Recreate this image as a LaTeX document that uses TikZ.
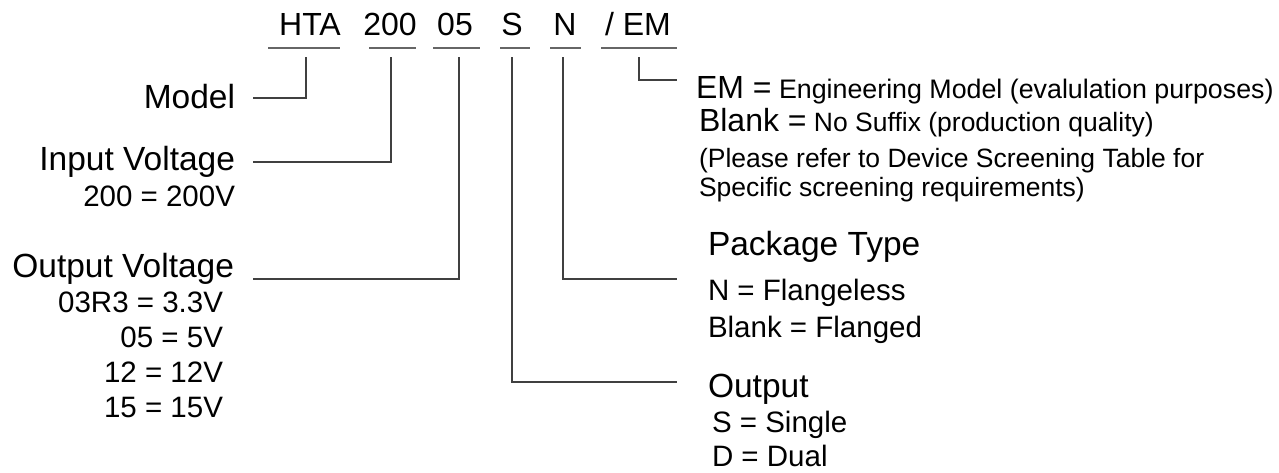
\documentclass[tikz,border=0pt]{standalone}
\usepackage{fontspec}
\setmainfont{Liberation Sans}
\newcommand\codefs{\fontsize{32}{36}\selectfont}
\newcommand\titlefs{\fontsize{33.5}{38}\selectfont}
\newcommand\subfs{\fontsize{29.5}{33}\selectfont}
\newcommand\notefs{\fontsize{26.5}{30}\selectfont}
\newcommand\emfs{\fontsize{26.8}{30}\selectfont}
\newcommand\bigfs{\fontsize{32}{36}\selectfont}
\begin{document}
\begin{tikzpicture}[x=1pt,y=-1pt,
  txt/.style={inner sep=0pt, outer sep=0pt},
  lft/.style={txt, anchor=base east},
  rgt/.style={txt, anchor=base west},
  code/.style={txt, anchor=base, font=\codefs},
  uline/.style={draw=black!60, line width=1.2pt},
  conn/.style={draw=black!75, line width=1.2pt}]
\useasboundingbox (0,0) rectangle (1279,472);
% code row
\node[code] (hta) at (310,35) {HTA};
\node[code] (c200) at (390,35) {200};
\node[code] (c05) at (455,35) {05};
\node[code] (cS) at (512,35) {S};
\node[code] (cN) at (565,35) {N};
\node[code] (cEM) at (638,35) {/ EM};
% underlines
\coordinate (u1a) at (268,48); \coordinate (u1b) at (340,48);
\coordinate (u2a) at (369,48); \coordinate (u2b) at (416,48);
\coordinate (u3a) at (433,48); \coordinate (u3b) at (480,48);
\coordinate (u4a) at (500,48); \coordinate (u4b) at (530,48);
\coordinate (u5a) at (550,48); \coordinate (u5b) at (581,48);
\coordinate (u6a) at (601,48); \coordinate (u6b) at (677,48);
\foreach \i in {1,...,6}{\draw[uline] (u\i a) -- (u\i b);}
% top ends of connectors
\coordinate (t1) at (306,57);
\coordinate (t2) at (391,57);
\coordinate (t3) at (459,57);
\coordinate (t4) at (512,57);
\coordinate (t5) at (563,57);
\coordinate (t6) at (639,57);
% left labels
\node[lft, font=\titlefs] (model) at (235,108) {Model};
\node[lft, font=\titlefs] (inv) at (235,170) {Input Voltage};
\node[lft, font=\subfs] (inv1) at (235,206) {200 = 200V};
\node[lft, font=\titlefs] (outv) at (234,277) {Output Voltage};
\node[lft, font=\subfs] (o1) at (223,312) {03R3 = 3.3V};
\node[lft, font=\subfs] (o2) at (223,347) {05 = 5V};
\node[lft, font=\subfs] (o3) at (223,382) {12 = 12V};
\node[lft, font=\subfs] (o4) at (223,417) {15 = 15V};
% left connector ends
\coordinate (l1) at (253,98);
\coordinate (l2) at (253,162);
\coordinate (l3) at (253,279);
\draw[conn] (l1) -| (t1);
\draw[conn] (l2) -| (t2);
\draw[conn] (l3) -| (t3);
% right labels
\node[rgt] (em) at (696,98) {\bigfs EM =\emfs\ Engineering Model (evalulation purposes)};
\node[rgt] (blank) at (699,131) {\bigfs Blank =\notefs\ No Suffix (production quality)};
\node[rgt, font=\notefs] (note1) at (699,167) {(Please refer to Device Screening Table for};
\node[rgt, font=\notefs] (note2) at (699,196) {Specific screening requirements)};
\node[rgt, font=\titlefs] (pkg) at (708,255) {Package Type};
\node[rgt, font=\subfs] (pkg1) at (708,300) {N = Flangeless};
\node[rgt, font=\subfs] (pkg2) at (708,337) {Blank = Flanged};
\node[rgt, font=\titlefs] (out) at (708,397) {Output};
\node[rgt, font=\subfs] (out1) at (712,432) {S = Single};
\node[rgt, font=\subfs] (out2) at (712,466) {D = Dual};
% right connector ends
\coordinate (r6) at (677,80);
\coordinate (r5) at (677,279);
\coordinate (r4) at (677,382);
\draw[conn] (t6) |- (r6);
\draw[conn] (t5) |- (r5);
\draw[conn] (t4) |- (r4);
\end{tikzpicture}
\end{document}
